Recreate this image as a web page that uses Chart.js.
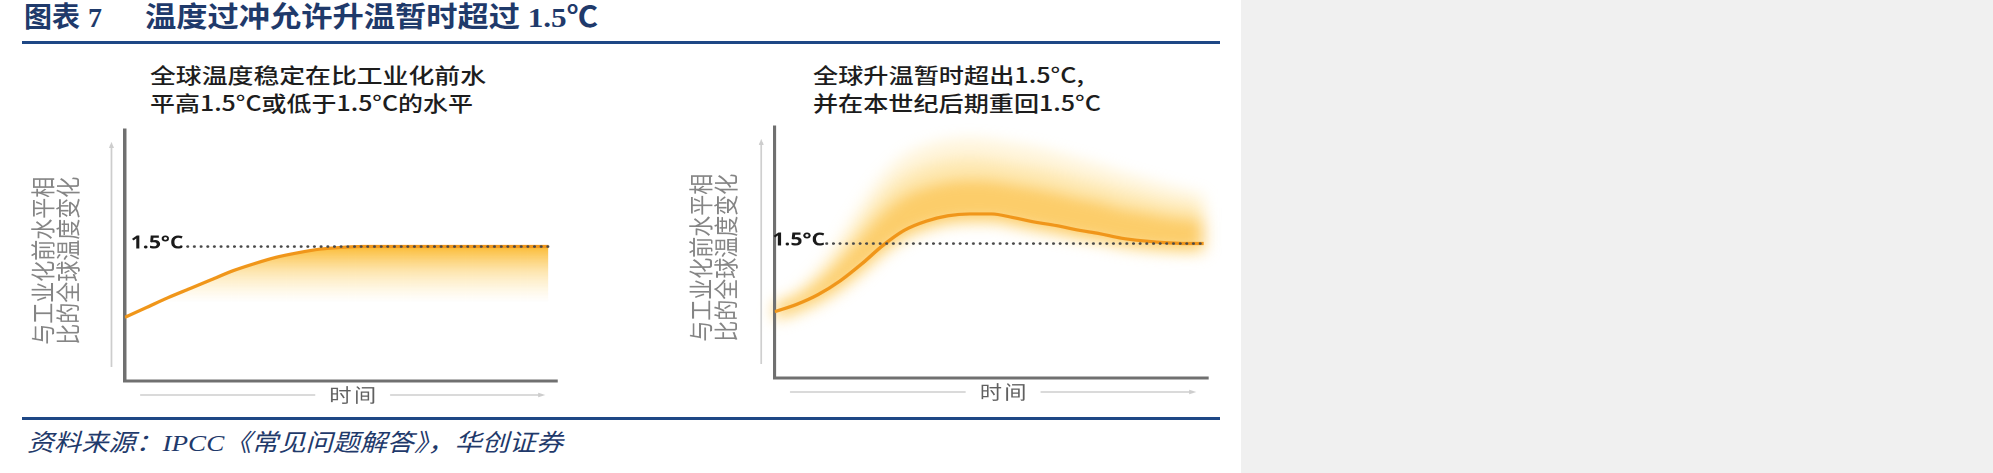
<!DOCTYPE html>
<html>
<head>
<meta charset="utf-8">
<script src="https://cdn.jsdelivr.net/npm/chart.js@4.4.1/dist/chart.umd.min.js"></script>
<style>
html,body{margin:0;padding:0;background:#fff;}
body{width:1993px;height:473px;position:relative;overflow:hidden;font-family:'Noto Sans CJK SC',sans-serif;}
#panel{position:absolute;left:1241px;top:0;width:752px;height:473px;background:#f0f0f0;}
.rule{position:absolute;left:22px;width:1198px;height:3px;background:#1e4785;}
.abs{position:absolute;white-space:nowrap;transform-origin:0 50%;}
.title{font-family:'Liberation Serif','Noto Sans CJK SC',serif;font-weight:700;color:#1f3a6b;font-size:28px;line-height:28px;top:4px;}
.sub{font-family:'Noto Sans CJK SC',sans-serif;font-size:21px;line-height:26px;color:#1d1d1d;font-weight:500;}
.src{font-family:'Liberation Serif','Noto Sans CJK SC',serif;font-style:italic;color:#1f3a6b;font-size:24px;line-height:26px;top:430px;}
.chartbox{position:absolute;transform-origin:0 0;transform:scaleX(1.17);}
#leftBox{left:20px;top:110px;width:496px;height:301px;}
#rightBox,#rightGlowBox{left:678px;top:107px;width:472px;height:301px;}
#rightGlowBox{filter:blur(7px);}
</style>
</head>
<body>
<div id="panel"></div>
<div class="rule" style="top:41px"></div>
<div class="rule" style="top:417px"></div>

<div class="abs title" style="left:24px" data-w="56">图表</div>
<div class="abs title" style="left:88px">7</div>
<div class="abs title" style="left:145px" data-w="453">温度过冲允许升温暂时超过 1.5℃</div>

<div class="abs sub" style="left:150px;top:61px" data-w="336">全球温度稳定在比工业化前水</div>
<div class="abs sub" style="left:150px;top:89px" data-w="323">平高1.5°C或低于1.5°C的水平</div>
<div class="abs sub" style="left:813px;top:61px" data-w="271">全球升温暂时超出1.5°C,</div>
<div class="abs sub" style="left:813px;top:89px" data-w="288">并在本世纪后期重回1.5°C</div>

<div class="abs src" style="left:27px" data-w="536">资料来源：IPCC《常见问题解答》，华创证券</div>

<div class="chartbox" id="leftBox"><canvas id="leftChart"></canvas></div>
<div class="chartbox" id="rightGlowBox"><canvas id="rightGlow"></canvas></div>
<div class="chartbox" id="rightBox"><canvas id="rightChart"></canvas></div>

<script>
// ---------------- data ----------------
const refLevel = 1.5;
const refLabel = '1.5°C';
const yTitleLines = ['与工业化前水平相\u2002', '比的全球温度变化\u2002'];
const xTitle = '时间';

// left panel: warming levels off at 1.5°C
const leftTime = [0, 5, 10, 15, 20, 25, 30, 35, 40, 45, 50, 55, 70, 85, 98];
const leftTemp = [0.71, 0.82, 0.93, 1.03, 1.13, 1.23, 1.31, 1.38, 1.43, 1.47, 1.49, 1.50, 1.50, 1.50, 1.50];
const leftRefTime = [13, 98];

// right panel: temporary overshoot, back to 1.5°C later
const rightTime = [0, 5, 10, 15, 20, 25, 30, 35, 40, 45, 50, 55, 60, 65, 70, 75, 80, 85, 90, 95, 99];
const rightTemp = [0.74, 0.82, 0.93, 1.08, 1.27, 1.48, 1.65, 1.75, 1.81, 1.83, 1.83, 1.79, 1.74, 1.70, 1.65, 1.61, 1.56, 1.53, 1.51, 1.50, 1.50];
// uncertainty glow around the right-panel path (outer / middle / inner upper edges, lower edges)
const rightGlowOuter = [0.87, 0.98, 1.21, 1.54, 1.93, 2.27, 2.49, 2.60, 2.66, 2.68, 2.66, 2.62, 2.58, 2.52, 2.45, 2.38, 2.30, 2.23, 2.16, 2.10, 2.05];
const rightGlowMid   = [0.84, 0.94, 1.14, 1.42, 1.75, 2.06, 2.26, 2.37, 2.43, 2.45, 2.43, 2.39, 2.35, 2.30, 2.23, 2.17, 2.10, 2.04, 1.98, 1.94, 1.90];
const rightGlowInner = [0.80, 0.89, 1.06, 1.29, 1.57, 1.84, 2.03, 2.13, 2.19, 2.21, 2.20, 2.16, 2.12, 2.07, 2.01, 1.96, 1.89, 1.85, 1.80, 1.77, 1.75];
const rightGlowLowerInner = [0.69, 0.77, 0.88, 1.03, 1.22, 1.43, 1.60, 1.70, 1.76, 1.78, 1.78, 1.74, 1.69, 1.65, 1.60, 1.56, 1.51, 1.48, 1.46, 1.45, 1.45];
const rightGlowLowerOuter = [0.62, 0.70, 0.81, 0.96, 1.15, 1.36, 1.53, 1.63, 1.69, 1.71, 1.71, 1.67, 1.62, 1.58, 1.53, 1.49, 1.44, 1.41, 1.39, 1.38, 1.38];
const rightRefTime = [12, 99];

const yMax = 2.8;

// ---------------- helpers ----------------
const pts = (xs, ys) => xs.map((x, i) => ({x: x, y: ys[i]}));
const flat = (xs, v) => xs.map(x => ({x: x, y: v}));

function fitTexts() {
  document.querySelectorAll('[data-w]').forEach(el => {
    el.style.transform = 'none';
    const w = el.getBoundingClientRect().width;
    if (w > 0) el.style.transform = 'scaleX(' + (parseFloat(el.dataset.w) / w) + ')';
  });
}
fitTexts();
if (document.fonts && document.fonts.ready) document.fonts.ready.then(fitTexts);

Chart.defaults.font.family = "'Noto Sans CJK SC', 'Open Sans', sans-serif";

const axisDecor = {
  id: 'axisDecor',
  afterDraw(chart, args, o) {
    if (!o.show) return;
    const ctx = chart.ctx, a = chart.chartArea;
    ctx.save();
    ctx.strokeStyle = o.arrowColor; ctx.fillStyle = o.arrowColor; ctx.lineWidth = 1.5;
    const ax = a.left + o.yArrowDx, top = a.top + o.yArrowTop, bot = a.bottom - o.yArrowBottom;
    ctx.beginPath(); ctx.moveTo(ax, bot); ctx.lineTo(ax, top + 4); ctx.stroke();
    ctx.beginPath(); ctx.moveTo(ax, top); ctx.lineTo(ax - 2.2, top + 6); ctx.lineTo(ax + 2.2, top + 6); ctx.closePath(); ctx.fill();
    ctx.font = '400 19px "Noto Sans CJK SC"';
    try { ctx.letterSpacing = '2px'; } catch (e) {}
    const cx = (a.left + a.right) / 2 + o.xTitleDx, cy = a.bottom + o.xTitleDy;
    const tw = ctx.measureText(o.text).width;
    ctx.fillStyle = o.titleColor; ctx.textAlign = 'center'; ctx.textBaseline = 'middle';
    ctx.fillText(o.text, cx + 1, cy);
    ctx.fillStyle = o.arrowColor;
    ctx.beginPath(); ctx.moveTo(a.left + o.xArrowStart, cy); ctx.lineTo(cx - tw / 2 - o.gap, cy); ctx.stroke();
    const xe = a.right - o.xArrowEnd;
    ctx.beginPath(); ctx.moveTo(cx + tw / 2 + o.gap, cy); ctx.lineTo(xe - 4, cy); ctx.stroke();
    ctx.beginPath(); ctx.moveTo(xe, cy); ctx.lineTo(xe - 6, cy - 2.2); ctx.lineTo(xe - 6, cy + 2.2); ctx.closePath(); ctx.fill();
    ctx.restore();
  }
};

function underGlow(context) {
  const chart = context.chart, a = chart.chartArea;
  if (!a) return 'rgba(252,190,50,0.4)';
  const y0 = chart.scales.y.getPixelForValue(refLevel);
  const g = chart.ctx.createLinearGradient(0, y0, 0, y0 + 56);
  g.addColorStop(0, 'rgba(251,182,36,0.92)');
  g.addColorStop(0.45, 'rgba(252,200,80,0.45)');
  g.addColorStop(1, 'rgba(255,228,150,0)');
  return g;
}

const refDataset = xs => ({
  data: flat(xs, refLevel), borderColor: '#4a4a4a', borderWidth: 2.6,
  borderDash: [0, 5.7], borderCapStyle: 'round', fill: false
});

const band = (ys, target, color) => ({
  data: pts(rightTime, ys), borderWidth: 0, borderColor: 'rgba(0,0,0,0)',
  fill: target, backgroundColor: color
});

function buildChart(id, o) {
  const ghost = !!o.ghost;
  const axisColor = ghost ? 'rgba(0,0,0,0)' : '#707070';
  return new Chart(document.getElementById(id), {
    type: 'line',
    data: {datasets: o.datasets},
    plugins: [axisDecor],
    options: {
      responsive: true, maintainAspectRatio: false, animation: false, devicePixelRatio: 2,
      events: [],
      layout: {padding: {left: 0, right: o.padRight, top: 20, bottom: 30}},
      elements: {point: {radius: 0, hoverRadius: 0}, line: {cubicInterpolationMode: 'monotone'}},
      plugins: {
        legend: {display: false}, tooltip: {enabled: false},
        axisDecor: {
          show: !ghost, text: xTitle, titleColor: '#606060', arrowColor: '#cdcdcd',
          yArrowDx: -11.5, yArrowTop: 12, yArrowBottom: 14,
          xTitleDx: 10, xTitleDy: 14, gap: 11, xArrowStart: 13, xArrowEnd: 10
        }
      },
      scales: {
        x: {
          type: 'linear', min: 0, max: 100,
          grid: {display: false, drawTicks: false},
          ticks: {display: false},
          border: {display: true, color: axisColor, width: 3}
        },
        y: {
          min: 0, max: yMax,
          grid: {display: false, drawTicks: false},
          border: {display: true, color: axisColor, width: 3},
          afterBuildTicks: s => { s.ticks = [{value: refLevel}]; },
          ticks: {
            mirror: true, padding: o.tickPad, labelOffset: -3, z: 1,
            color: ghost ? 'rgba(0,0,0,0)' : '#1a1a1a',
            font: {family: "'Open Sans', 'Noto Sans', sans-serif", weight: 'bold', size: 18},
            callback: () => refLabel
          },
          title: {
            display: true, text: yTitleLines, color: ghost ? 'rgba(0,0,0,0)' : '#858585',
            font: {family: "'Noto Sans CJK SC'", size: 21, weight: '400', lineHeight: 1.02},
            padding: {top: 9, bottom: o.titlePadBottom}
          }
        }
      }
    }
  });
}

// left chart
buildChart('leftChart', {
  padRight: 37, tickPad: 5, titlePadBottom: 27.8,
  datasets: [
    refDataset(leftRefTime),
    {data: pts(leftTime, leftTemp), borderColor: '#f0961a', borderWidth: 3.2,
     fill: 'origin', backgroundColor: underGlow}
  ]
});

// right chart: soft glow layer (blurred by CSS) under the main layer
buildChart('rightGlow', {
  ghost: true, padRight: 19, tickPad: -2, titlePadBottom: 34.8,
  datasets: [
    band(rightGlowInner, 3, 'rgba(250,176,30,0.48)'),
    band(rightGlowMid, 4, 'rgba(252,196,64,0.28)'),
    band(rightGlowOuter, 4, 'rgba(253,210,96,0.22)'),
    band(rightGlowLowerInner, false, 'rgba(0,0,0,0)'),
    band(rightGlowLowerOuter, false, 'rgba(0,0,0,0)')
  ]
});

buildChart('rightChart', {
  padRight: 19, tickPad: -2, titlePadBottom: 34.8,
  datasets: [
    refDataset(rightRefTime),
    {data: pts(rightTime, rightTemp), borderColor: '#f0961a', borderWidth: 3.2, fill: false}
  ]
});
</script>
</body>
</html>
